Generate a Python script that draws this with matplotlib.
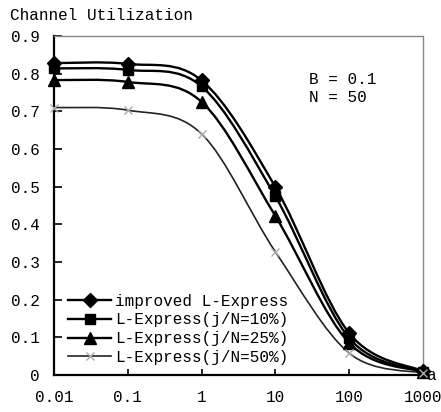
import numpy as np
import matplotlib
matplotlib.use('Agg')
import matplotlib.pyplot as plt
from matplotlib.path import Path
from matplotlib.patches import PathPatch
from matplotlib.lines import Line2D

# data
a_values = [0.01, 0.1, 1, 10, 100, 1000]
improved = [0.828, 0.826, 0.782, 0.499, 0.111, 0.010]
lexp_10 = [0.814, 0.810, 0.766, 0.474, 0.098, 0.009]
lexp_25 = [0.783, 0.778, 0.725, 0.422, 0.085, 0.008]
lexp_50 = [0.710, 0.703, 0.640, 0.327, 0.058, 0.005]
labels = ['improved L-Express', 'L-Express(j/N=10%)', 'L-Express(j/N=25%)', 'L-Express(j/N=50%)']
y_ticks = [0, 0.1, 0.2, 0.3, 0.4, 0.5, 0.6, 0.7, 0.8, 0.9]
y_tick_labels = ['0', '0.1', '0.2', '0.3', '0.4', '0.5', '0.6', '0.7', '0.8', '0.9']
x_tick_labels = ['0.01', '0.1', '1', '10', '100', '1000']

plt.rcParams['font.family'] = ['Liberation Mono', 'DejaVu Sans Mono']
FS = 11.5


def smooth_path(xs, ys):
    # excel-like smoothed line: catmull-rom segments as cubic beziers in log-x space
    lx = np.log10(xs)
    y = np.asarray(ys, dtype=float)
    p = np.column_stack([lx, y])
    n = len(p)
    verts = [p[0]]
    codes = [Path.MOVETO]
    for i in range(n - 1):
        p0 = p[i - 1] if i > 0 else p[i]
        p3 = p[i + 2] if i + 2 < n else p[i + 1]
        c1 = p[i] + (p[i + 1] - p0) / 6.
        c2 = p[i + 1] - (p3 - p[i]) / 6.
        verts += [c1, c2, p[i + 1]]
        codes += [Path.CURVE4] * 3
    verts = np.array(verts)
    verts[:, 0] = 10 ** verts[:, 0]
    return Path(verts, codes)


fig = plt.figure(figsize=(4.41, 4.12), dpi=100)
ax = fig.add_axes([54 / 441, 1 - 375 / 412, 369 / 441, 339 / 412])
ax.set_xscale('log')
ax.set_xlim(0.01, 1000)
ax.set_ylim(0, 0.9)

series = [
    (improved, dict(marker='D', ms=7, mfc='k', mec='k', color='k', lw=1.7)),
    (lexp_10, dict(marker='s', ms=7, mfc='k', mec='k', color='k', lw=1.7)),
    (lexp_25, dict(marker='^', ms=8, mfc='k', mec='k', color='k', lw=1.7)),
    (lexp_50, dict(marker='x', ms=6, mfc='#aaaaaa', mec='#aaaaaa', color='#222222', lw=1.2)),
]

handles = []
for ys, st in series:
    patch = PathPatch(smooth_path(a_values, ys), fill=False, edgecolor=st['color'], lw=st['lw'])
    ax.add_patch(patch)
    ax.plot(a_values, ys, linestyle='none', marker=st['marker'], ms=st['ms'],
            mfc=st['mfc'], mec=st['mec'], mew=1, clip_on=False, zorder=3)
    handles.append(Line2D([], [], color=st['color'], lw=st['lw'], marker=st['marker'],
                          ms=st['ms'], mfc=st['mfc'], mec=st['mec']))

leg = ax.legend(handles, labels, loc='lower left', bbox_to_anchor=(0.03, 0.02),
                frameon=False, fontsize=FS, handlelength=2.7, handletextpad=0.25,
                labelspacing=0.24, borderpad=0.2, borderaxespad=0)

ax.set_yticks(y_ticks)
ax.set_yticklabels(y_tick_labels, fontsize=FS)
ax.set_xticks(a_values)
ax.set_xticklabels(x_tick_labels, fontsize=FS)
ax.minorticks_off()
ax.tick_params(axis='y', direction='in', length=6, width=1.2, pad=10)
ax.tick_params(axis='x', direction='in', length=4, width=1.2, pad=11)

for s in ['left', 'bottom']:
    ax.spines[s].set_linewidth(1.6)
for s in ['top', 'right']:
    ax.spines[s].set_linestyle((0, (1, 1)))
    ax.spines[s].set_color('#888888')
    ax.spines[s].set_linewidth(1.0)

ax.text(1.01, 0.0, 'a', transform=ax.transAxes, fontsize=FS, ha='left', va='center')
ax.text(0.69, 0.895, 'B = 0.1\nN = 50', transform=ax.transAxes, fontsize=FS,
        ha='left', va='top', linespacing=1.25)
fig.text(10 / 441, 1 - 15 / 412, 'Channel Utilization', fontsize=FS, ha='left', va='center')

fig.savefig('out.png', dpi=100)
